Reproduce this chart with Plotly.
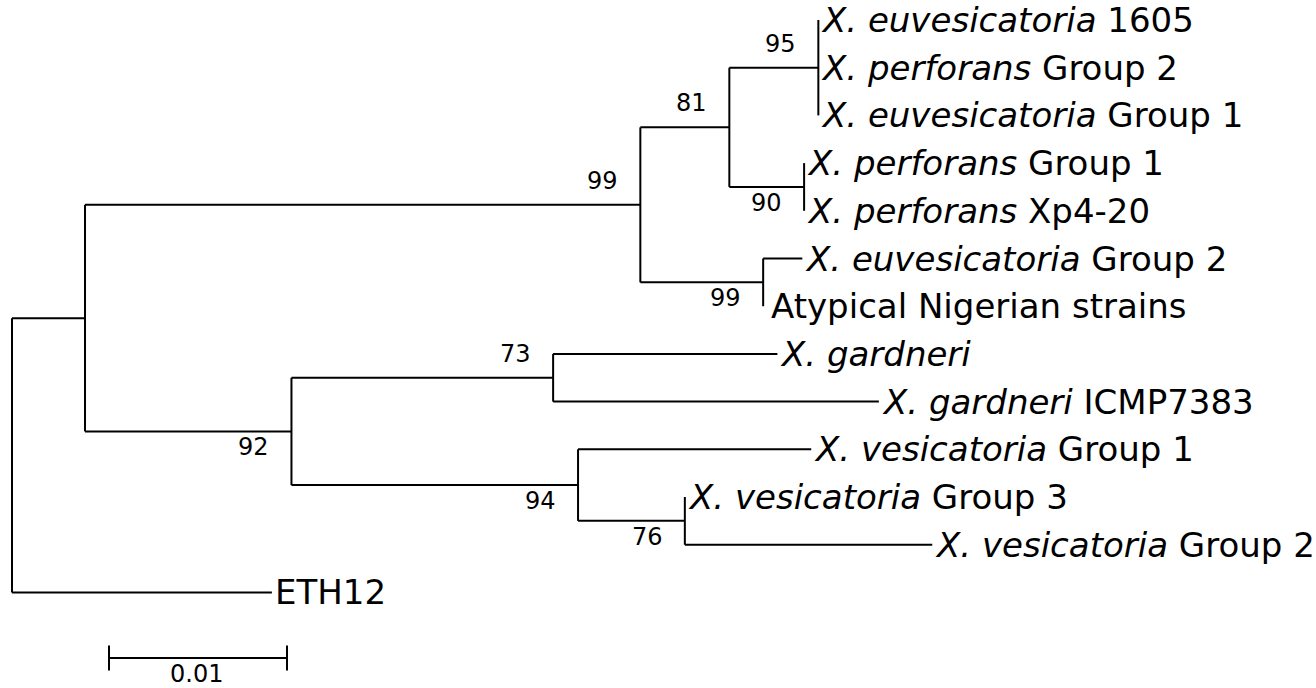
import plotly.graph_objects as go

# ---- tree data ----
node_names = ["root", "A", "ETH12", "B", "G", "C", "F", "D", "E",
              "XE1605", "XPG2", "XEG1", "XPG1", "XP420", "XEG2", "ATYP",
              "H", "I", "XG", "XG7383", "XVG1", "J", "XVG3", "XVG2"]
node_parents = [None, "root", "root", "A", "A", "B", "B", "C", "C",
                "D", "D", "D", "E", "E", "F", "F",
                "G", "G", "H", "H", "I", "I", "J", "J"]
branch_lengths = [0.0, 0.0041, 0.0146, 0.0312, 0.0116, 0.0050, 0.0069, 0.0050, 0.0042,
                  0.0, 0.0, 0.0, 0.0, 0.0, 0.0022, 0.0,
                  0.0147, 0.0161, 0.0126, 0.0183, 0.0131, 0.0060, 0.0, 0.0139]
bootstrap = [None, None, None, 99, 92, 81, 99, 95, 90,
             None, None, None, None, None, None, None,
             73, 94, None, None, None, 76, None, None]
leaf_labels = {
    "XE1605": "<i>X. euvesicatoria</i> 1605",
    "XPG2": "<i>X. perforans</i> Group 2",
    "XEG1": "<i>X. euvesicatoria</i> Group 1",
    "XPG1": "<i>X. perforans</i> Group 1",
    "XP420": "<i>X. perforans</i> Xp4-20",
    "XEG2": "<i>X. euvesicatoria</i> Group 2",
    "ATYP": "Atypical Nigerian strains",
    "XG": "<i>X. gardneri</i>",
    "XG7383": "<i>X. gardneri</i> ICMP7383",
    "XVG1": "<i>X. vesicatoria</i> Group 1",
    "XVG3": "<i>X. vesicatoria</i> Group 3",
    "XVG2": "<i>X. vesicatoria</i> Group 2",
    "ETH12": "ETH12",
}
scale_bar_length = 0.01
scale_bar_label = "0.01"

# ---- layout of the tree ----
children = {n: [] for n in node_names}
for n, p in zip(node_names, node_parents):
    if p is not None:
        children[p].append(n)
length_of = dict(zip(node_names, branch_lengths))
boot_of = dict(zip(node_names, bootstrap))

xpos, ypos = {}, {}
leaf_counter = [0]


def place(n, x):
    xpos[n] = x
    if not children[n]:
        ypos[n] = leaf_counter[0]
        leaf_counter[0] += 1
        return
    for c in children[n]:
        place(c, x + length_of[c])
    ypos[n] = (ypos[children[n][0]] + ypos[children[n][-1]]) / 2


place("root", 0.0)

lx, ly = [], []
for n, p in zip(node_names, node_parents):
    if p is not None and length_of[n] > 0:
        lx += [xpos[p], xpos[n], None]
        ly += [ypos[n], ypos[n], None]
    if children[n]:
        lx += [xpos[n], xpos[n], None]
        ly += [ypos[children[n][0]], ypos[children[n][-1]], None]

fig = go.Figure()
fig.add_trace(go.Scatter(x=lx, y=ly, mode="lines",
                         line=dict(color="black", width=2),
                         hoverinfo="skip", showlegend=False))

FONT = "DejaVu Sans"
annotations = []
for n in node_names:
    if not children[n]:
        annotations.append(dict(x=xpos[n], y=ypos[n], text=leaf_labels[n],
                                xanchor="left", yanchor="middle",
                                xshift=6 if n == "ATYP" else 1,
                                showarrow=False,
                                font=dict(family=FONT, size=34, color="black")))
    b = boot_of[n]
    if b is not None:
        p = node_parents[node_names.index(n)]
        upper = children[p][0] == n
        annotations.append(dict(x=xpos[n], y=ypos[n], text=str(b),
                                xanchor="right", yanchor="middle", xshift=-20,
                                yshift=24 if upper else -16,
                                showarrow=False,
                                font=dict(family=FONT, size=24, color="black")))

# scale bar
px_per_unit = 17800.0
sb_x0 = (109 - 12) / px_per_unit
sb_y = (658 - 20) / 47.7
fig.add_trace(go.Scatter(x=[sb_x0, sb_x0 + scale_bar_length], y=[sb_y, sb_y],
                         mode="lines+markers",
                         line=dict(color="black", width=2),
                         marker=dict(symbol="line-ns", size=18,
                                     line=dict(color="black", width=2)),
                         hoverinfo="skip", showlegend=False))
annotations.append(dict(x=sb_x0 + scale_bar_length / 2, y=sb_y, text=scale_bar_label,
                        xanchor="center", yanchor="middle", yshift=-16, xshift=-2,
                        showarrow=False,
                        font=dict(family=FONT, size=24, color="black")))

W, H = 1316, 688
fig.update_layout(
    width=W, height=H,
    margin=dict(l=0, r=0, t=0, b=0),
    paper_bgcolor="white", plot_bgcolor="white",
    annotations=annotations,
    xaxis=dict(range=[-12 / px_per_unit, (W - 12) / px_per_unit],
               visible=False, fixedrange=True),
    yaxis=dict(range=[(H - 20) / 47.7, -20 / 47.7],
               visible=False, fixedrange=True),
)

fig.write_html("out.html", config={"displayModeBar": False},
               post_script="document.body.style.margin='0';")
